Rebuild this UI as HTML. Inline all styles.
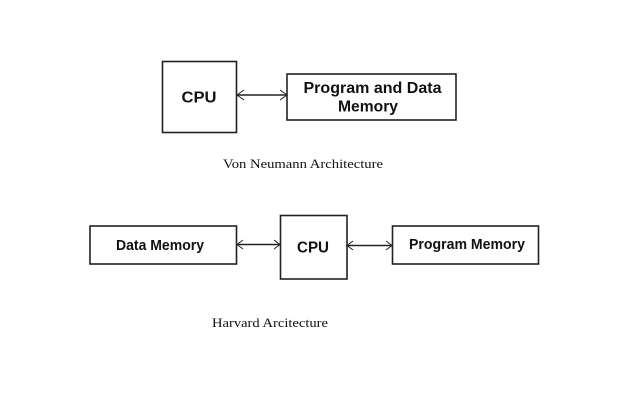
<!DOCTYPE html>
<html><head><meta charset="utf-8"><style>
html,body{margin:0;padding:0;background:#fff}
svg{display:block}
.b{font-family:"Liberation Sans",sans-serif;font-weight:bold;fill:#111;text-anchor:middle}
.s{font-family:"Liberation Serif",serif;fill:#111;font-size:13px}
rect{fill:#fff;stroke:#222;stroke-width:1.6}
path{fill:none;stroke:#222;stroke-width:1}
path.l{stroke-width:1.4}
</style></head><body>
<svg width="640" height="400" viewBox="0 0 640 400" xmlns="http://www.w3.org/2000/svg">
<rect x="162.500" y="61.500" width="74" height="71"/>
<rect x="287" y="74" width="169" height="46"/>
<text class="b" x="199" y="102.500" font-size="16" textLength="35" lengthAdjust="spacingAndGlyphs">CPU</text>
<text class="b" x="372.500" y="93" font-size="15.500" textLength="138" lengthAdjust="spacingAndGlyphs">Program and Data</text>
<text class="b" x="368" y="111.500" font-size="15.500" textLength="60" lengthAdjust="spacingAndGlyphs">Memory</text>
<path class="l" d="M237 95H287"/>
<path d="M244 90L237 95L244 100M280 90L287 95L280 100"/>
<text class="s" x="223" y="168" textLength="160" lengthAdjust="spacingAndGlyphs">Von Neumann Architecture</text>

<rect x="90" y="226" width="146.500" height="38"/>
<rect x="280.500" y="215.500" width="66.500" height="63.500"/>
<rect x="392.500" y="226" width="146" height="38"/>
<text class="b" x="160" y="250" font-size="14.500" textLength="88" lengthAdjust="spacingAndGlyphs">Data Memory</text>
<text class="b" x="313" y="252.500" font-size="15.500" textLength="32" lengthAdjust="spacingAndGlyphs">CPU</text>
<text class="b" x="467" y="249" font-size="14.500" textLength="116" lengthAdjust="spacingAndGlyphs">Program Memory</text>
<path class="l" d="M237 244.500H280"/>
<path d="M243 240L237 244.500L243 249M274 240L280 244.500L274 249"/>
<path class="l" d="M347 245.500H392"/>
<path d="M353 241L347 245.500L353 250M386 241L392 245.500L386 250"/>
<text class="s" x="212" y="327" textLength="116" lengthAdjust="spacingAndGlyphs">Harvard Arcitecture</text>
</svg>
</body></html>
